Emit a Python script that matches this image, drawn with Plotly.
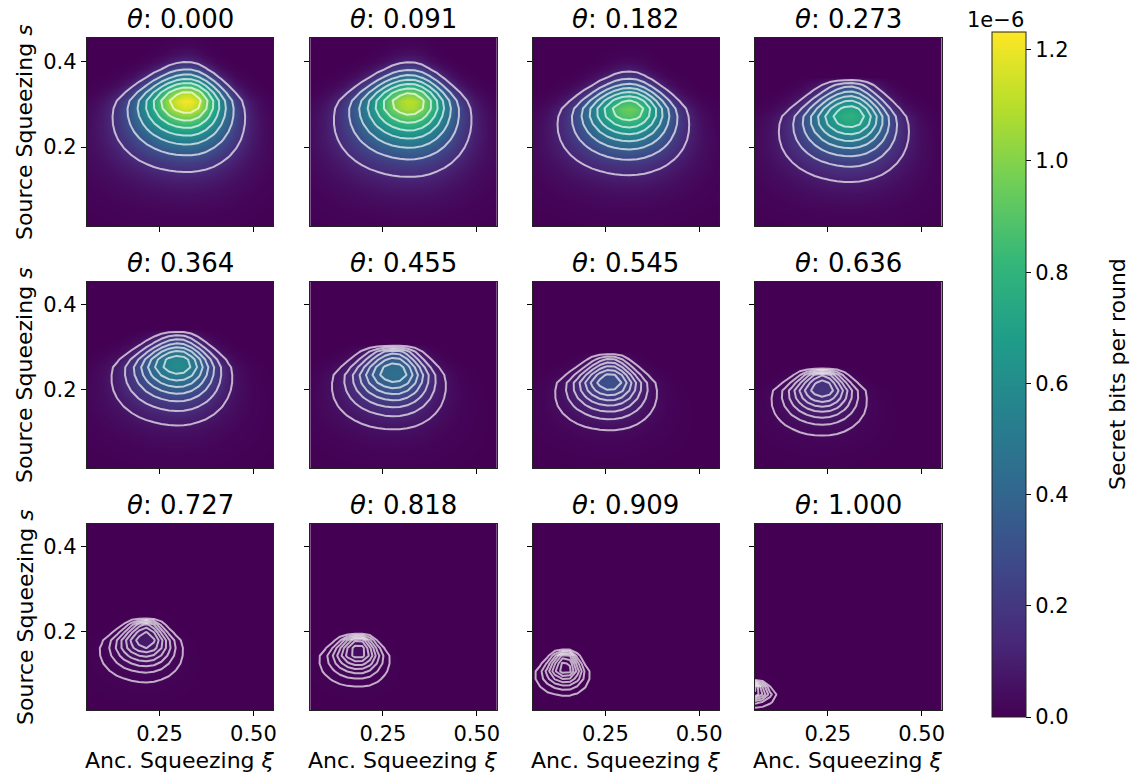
import numpy as np
import plotly.graph_objects as go

# ---- data ----
thetas = [0.000, 0.091, 0.182, 0.273, 0.364, 0.455, 0.545, 0.636, 0.727, 0.818, 0.909, 1.000]
# peak key rate per panel (units of 1e-6 secret bits per round)
peak_val = [1.23, 1.12, 0.96, 0.79, 0.61, 0.46, 0.31, 0.19, 0.09, 0.045, 0.018, 0.004]
# location of the peak (anc. squeezing xi, source squeezing s)
peak_xi = [0.324, 0.322, 0.314, 0.310, 0.300, 0.281, 0.263, 0.237, 0.215, 0.186, 0.145, 0.050]
peak_s = [0.305, 0.302, 0.286, 0.270, 0.260, 0.239, 0.217, 0.200, 0.177, 0.151, 0.111, 0.058]
# extents of the outermost contour
edge_left = [0.117, 0.111, 0.115, 0.112, 0.115, 0.107, 0.110, 0.095, 0.086, 0.077, 0.061, 0.040]
edge_right = [0.484, 0.492, 0.480, 0.472, 0.449, 0.423, 0.392, 0.359, 0.316, 0.270, 0.209, 0.115]
edge_top = [0.398, 0.397, 0.375, 0.354, 0.330, 0.307, 0.274, 0.244, 0.220, 0.190, 0.151, 0.085]
edge_bottom = [0.142, 0.131, 0.135, 0.119, 0.117, 0.107, 0.105, 0.093, 0.082, 0.071, 0.050, 0.024]
# number of contour lines that merge at the upper cut-off edge
top_merged = [1, 1, 1, 2, 2, 3, 3, 5, 5, 5, 5, 6]

xi_grid = np.linspace(0.056, 0.553, 26)
s_grid = np.linspace(0.016, 0.454, 25)
ZMAX = 1.232e-6
K = 8.0        # outermost contour sits at peak/K
N_LEVELS = 7
Q_DOWN = 1.5   # fall-off exponent below the peak (long tail)
SKEW = 0.45    # widening of the contours towards small s

cb_ticks = [0.0, 0.2, 0.4, 0.6, 0.8, 1.0, 1.2]


def make_field(i):
    P = peak_val[i] * 1e-6
    cx, cy = peak_xi[i], peak_s[i]
    X, Y = np.meshgrid(xi_grid, s_grid)
    dx, dy = X - cx, Y - cy
    hb = cy - edge_bottom[i]
    dt = edge_top[i] - cy
    m = top_merged[i]
    lnK = np.log(K)
    # vertical scale above the peak so that m levels meet at the cut-off edge
    hu = dt * np.sqrt(lnK / np.log(K / m)) if m > 1 else dt
    vw = np.clip(np.where(dy < 0, dy / hb, dy / dt), -1.5, 1.2)
    w = np.maximum(1 - SKEW * vw, 0.25)
    vm = (1 - np.sqrt(1 + 8 * SKEW ** 2)) / (4 * SKEW)
    amp = (1 - SKEW * vm) * np.sqrt(1 - vm ** 2)
    Wl = (cx - edge_left[i]) / amp
    Wr = (edge_right[i] - cx) / amp
    u = np.where(dx < 0, dx / (w * Wl), dx / (w * Wr))
    vq = np.where(dy < 0, np.abs(dy / hb) ** Q_DOWN, (dy / hu) ** 2)
    z = P * np.exp(-lnK * (u ** 2 + vq))
    if m > 1:
        z[Y > edge_top[i]] = 0.0
    return z, P


W, H = 1137, 772
col_px = [(87, 274), (311, 498), (534, 721), (757, 944)]
row_px = [(38, 226), (282, 468), (524, 710)]
FONT = "DejaVu Sans"

fig = go.Figure()
annotations = []
layout = {}
for i in range(12):
    r, c = divmod(i, 4)
    n = "" if i == 0 else str(i + 1)
    z, P = make_field(i)
    fig.add_trace(go.Heatmap(x=xi_grid, y=s_grid, z=z, coloraxis="coloraxis",
                             zsmooth="best", xaxis="x" + n, yaxis="y" + n,
                             hoverinfo="skip"))
    fig.add_trace(go.Contour(x=xi_grid, y=s_grid, z=z, autocontour=False,
                             contours=dict(start=P / K, end=P * N_LEVELS / K * 1.0001,
                                           size=P / K, coloring="none"),
                             line=dict(color="rgba(255,255,255,0.68)", width=2, smoothing=0),
                             showscale=False, xaxis="x" + n, yaxis="y" + n,
                             hoverinfo="skip", showlegend=False))
    x0, x1 = col_px[c]
    y0, y1 = row_px[r]
    layout["xaxis" + n] = dict(domain=[x0 / W, x1 / W], anchor="y" + n,
                               range=[xi_grid[0], xi_grid[-1]],
                               tickvals=[0.25, 0.5], ticktext=["0.25", "0.50"],
                               showticklabels=(r == 2), ticks="outside", ticklen=5,
                               tickcolor="black", showline=True, mirror=True,
                               linecolor="#222", linewidth=1, showgrid=False,
                               zeroline=False, tickfont=dict(size=21, color="black"))
    layout["yaxis" + n] = dict(domain=[1 - y1 / H, 1 - y0 / H], anchor="x" + n,
                               range=[s_grid[0], s_grid[-1]],
                               tickvals=[0.2, 0.4], ticktext=["0.2", "0.4"],
                               showticklabels=(c == 0), ticks="outside", ticklen=5,
                               tickcolor="black", showline=True, mirror=True,
                               linecolor="#222", linewidth=1, showgrid=False,
                               zeroline=False, tickfont=dict(size=21, color="black"))
    annotations.append(dict(text="<i>θ</i>: %.3f" % thetas[i], xref="paper", yref="paper",
                            x=(x0 + x1) / 2 / W, y=1 - y0 / H, xanchor="center",
                            yanchor="bottom", yshift=2, showarrow=False,
                            font=dict(size=26, color="black")))
    if c == 0:
        annotations.append(dict(text="Source Squeezing <i>s</i>", xref="paper", yref="paper",
                                x=25 / W, y=1 - (y0 + y1) / 2 / H, textangle=-90,
                                xanchor="center", yanchor="middle", showarrow=False,
                                font=dict(size=22, color="black")))
    if r == 2:
        annotations.append(dict(text="Anc. Squeezing <i>ξ</i>", xref="paper", yref="paper",
                                x=(x0 + x1) / 2 / W, y=1 - 760 / H, xanchor="center",
                                yanchor="middle", showarrow=False,
                                font=dict(size=22, color="black")))

annotations.append(dict(text="1e−6", xref="paper", yref="paper", x=998 / W, y=1 - 20 / H,
                        xanchor="center", yanchor="middle", showarrow=False,
                        font=dict(size=21, color="black")))
annotations.append(dict(text="Secret bits per round", xref="paper", yref="paper",
                        x=1121 / W, y=1 - 374 / H, textangle=-90, xanchor="center",
                        yanchor="middle", showarrow=False, font=dict(size=22, color="black")))

fig.update_layout(
    width=W, height=H, margin=dict(l=0, r=0, t=0, b=0),
    paper_bgcolor="white", plot_bgcolor="white",
    font=dict(family=FONT, color="black"),
    showlegend=False,
    annotations=annotations,
    coloraxis=dict(colorscale="Viridis", cmin=0, cmax=ZMAX,
                   colorbar=dict(x=995 / W, xanchor="left", xpad=0, ypad=0,
                                 y=1 - (32 + 717) / 2 / H, yanchor="middle",
                                 len=(717 - 32) / H, lenmode="fraction",
                                 thickness=34, outlinewidth=1, outlinecolor="#222",
                                 tickvals=[t * 1e-6 for t in cb_ticks],
                                 ticktext=["%.1f" % t for t in cb_ticks],
                                 ticks="outside", ticklen=5, tickcolor="black",
                                 tickfont=dict(size=21, color="black"))),
    **layout,
)
fig.write_html("out.html")
